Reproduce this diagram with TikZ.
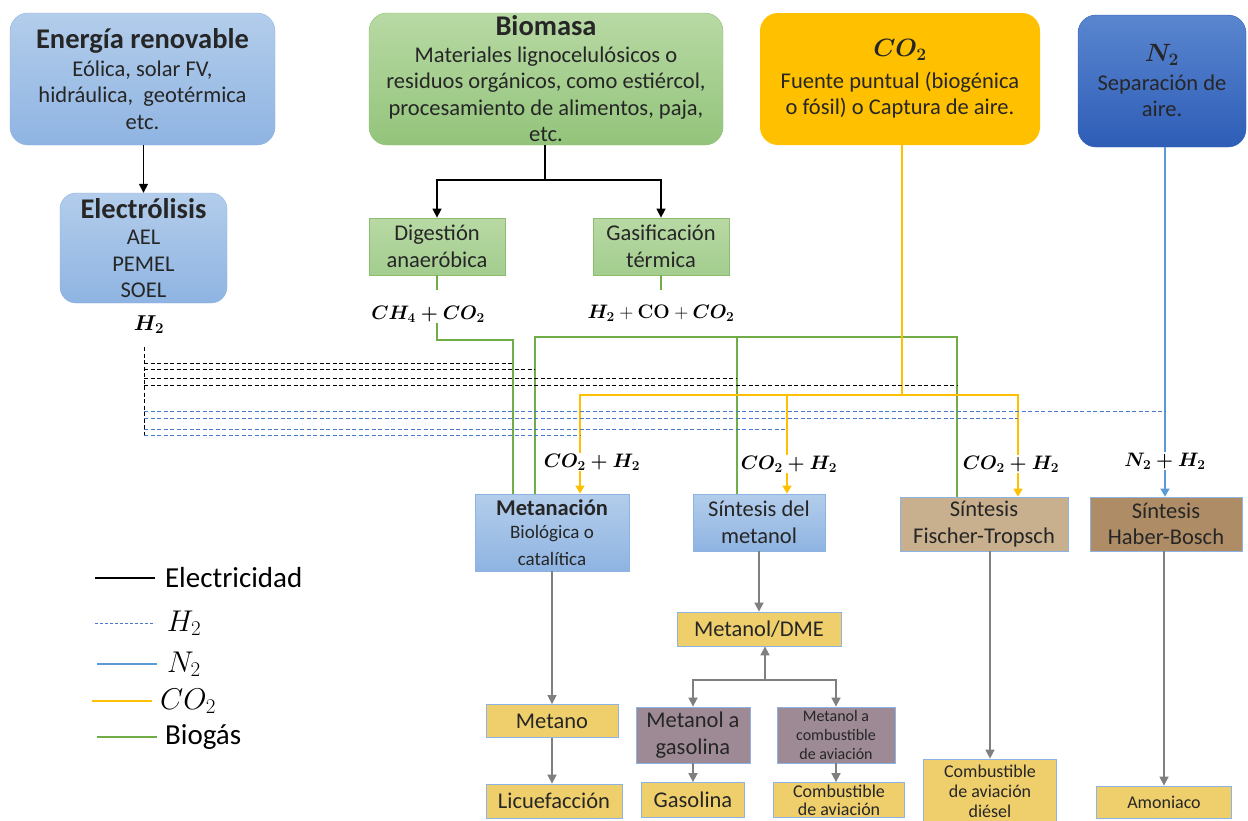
\RequirePackage{fix-cm}
\documentclass[tikz,border=0pt]{standalone}
\usepackage[no-math]{fontspec}
\setmainfont{Carlito}
\usepackage{amsmath}
\usetikzlibrary{arrows.meta}

\definecolor{txtgray}{HTML}{262626}
\definecolor{bluetop}{HTML}{B3CDEB}
\definecolor{bluebot}{HTML}{8FB4E2}
\definecolor{blueedge}{HTML}{8DB3E2}
\definecolor{greentop}{HTML}{B8D9A4}
\definecolor{greenbot}{HTML}{93C47B}
\definecolor{greenedge}{HTML}{8CC171}
\definecolor{co2fill}{HTML}{FFC000}
\definecolor{n2top}{HTML}{5A86CF}
\definecolor{n2bot}{HTML}{2E5DB7}
\definecolor{ftfill}{HTML}{C8B08F}
\definecolor{hbfill}{HTML}{AE8C66}
\definecolor{goldfill}{HTML}{EFCF6C}
\definecolor{mauve}{HTML}{9D8A95}
\definecolor{arrowgray}{HTML}{7F7F7F}
\definecolor{biogreen}{HTML}{70AD47}
\definecolor{n2blue}{HTML}{5B9BD5}
\definecolor{h2blue}{HTML}{4A78CC}

\newcommand{\titlefont}{\fontsize{28.5}{30}\selectfont\bfseries}
\newcommand{\bodyfont}{\fontsize{22.5}{26.5}\selectfont}
\newcommand{\smallfont}{\fontsize{19}{24}\selectfont}
\newcommand{\tinyfont}{\fontsize{16}{19}\selectfont}
\newcommand{\eqfont}{\fontsize{19.5}{24}\selectfont}
\newcommand{\legfont}{\fontsize{29}{32}\selectfont}
\newcommand{\legmath}{\fontsize{30}{32}\selectfont}

\begin{document}
\begin{tikzpicture}[x=1pt,y=-1pt,
  every node/.style={text=txtgray},
  rbox/.style={rounded corners=18pt, align=center, inner sep=0pt, font=\bodyfont},
  bluesrc/.style={rbox, draw=blueedge, top color=bluetop, bottom color=bluebot},
  greensrc/.style={rbox, draw=greenedge, top color=greentop, bottom color=greenbot},
  procbox/.style={draw=blueedge, line width=0.8pt, align=center, inner sep=0pt, font=\bodyfont},
  greenproc/.style={procbox, draw=biogreen!80, top color=greentop, bottom color=greenbot!85},
  blueproc/.style={procbox, top color=bluetop, bottom color=bluebot},
  goldbox/.style={procbox, fill=goldfill},
  mauvebox/.style={procbox, fill=mauve},
  eqlabel/.style={font=\eqfont, text=black, inner sep=1pt},
  elec/.style={black, line width=1.5pt, -{Triangle[length=9pt,width=9pt]}},
  bio/.style={biogreen, line width=1.6pt},
  co2line/.style={co2fill, line width=1.6pt},
  co2arrow/.style={co2line, -{Triangle[length=8pt,width=9pt]}},
  n2line/.style={n2blue, line width=1.5pt},
  n2arrow/.style={n2line, -{Triangle[length=8pt,width=9pt]}},
  h2k/.style={black, line width=0.9pt, dash pattern=on 4pt off 2.5pt},
  h2b/.style={h2blue, line width=1pt, dash pattern=on 4pt off 2.5pt},
  prod/.style={arrowgray, line width=1.6pt, -{Triangle[length=9pt,width=9pt]}}]
\useasboundingbox (0,0) rectangle (1248,820);

% fuentes
\node[bluesrc, minimum width=265pt, minimum height=132pt] (energia) at (142.5,79)
  {{\titlefont Energía renovable}\\[1pt]Eólica, solar FV,\\hidráulica,\ \ geotérmica\\etc.};
\node[bluesrc, rounded corners=16pt, minimum width=167pt, minimum height=110pt] (electro) at (143.5,248)
  {{\titlefont Electrólisis}\\AEL\\PEMEL\\SOEL};
\node[eqlabel, font=\fontsize{21.5}{24}\selectfont] (h2lab) at (149,325) {$\boldsymbol{H_2}$};
\node[greensrc, minimum width=354pt, minimum height=132pt] (biomasa) at (546,79)
  {{\titlefont Biomasa}\\Materiales lignocelulósicos o\\residuos orgánicos, como estiércol,\\procesamiento de alimentos, paja,\\etc.};
\node[rbox, fill=co2fill, minimum width=280pt, minimum height=132pt] (co2src) at (900,79)
  {{\fontsize{25}{30}\selectfont$\boldsymbol{CO_2}$}\\[5pt]Fuente puntual (biogénica\\o fósil) o Captura de aire.};
\node[rbox, draw=n2bot, top color=n2top, bottom color=n2bot, minimum width=168pt, minimum height=132pt] (n2src) at (1162,81)
  {{\fontsize{25}{30}\selectfont$\boldsymbol{N_2}$}\\[2pt]Separación de\\aire.};

% biomasa
\node[greenproc, minimum width=136pt, minimum height=57pt] (digest) at (437,246.5) {Digestión\\anaeróbica};
\node[greenproc, minimum width=136pt, minimum height=57pt] (gasif) at (661,246.5) {Gasificación\\térmica};
\node[eqlabel] (ch4) at (428,314) {$\boldsymbol{CH_4+CO_2}$};
\node[eqlabel] (h2co) at (661,313) {$\boldsymbol{H_2}+\mathbf{CO}+\boldsymbol{CO_2}$};

% sintesis
\node[blueproc, minimum width=154pt, minimum height=77pt] (metan) at (552,532.5)
  {{\bfseries Metanación}\\[-3pt]{\smallfont Biológica o}\\{\smallfont catalítica}};
\node[blueproc, minimum width=132pt, minimum height=57pt] (sintmet) at (759,522.5) {Síntesis del\\metanol};
\node[procbox, fill=ftfill, minimum width=168pt, minimum height=54pt] (ft) at (984,524) {Síntesis\\Fischer-Tropsch};
\node[procbox, fill=hbfill, minimum width=152pt, minimum height=54pt] (hb) at (1166,524) {Síntesis\\Haber-Bosch};

\node[eqlabel] (mix1) at (592,462) {$\boldsymbol{CO_2+H_2}$};
\node[eqlabel] (mix2) at (789,464) {$\boldsymbol{CO_2+H_2}$};
\node[eqlabel] (mix3) at (1011,464) {$\boldsymbol{CO_2+H_2}$};
\node[eqlabel] (mix4) at (1165,461) {$\boldsymbol{N_2+H_2}$};

% productos
\node[goldbox, minimum width=164pt, minimum height=34pt] (metdme) at (759,629) {Metanol/DME};
\node[mauvebox, font=\fontsize{22.5}{27}\selectfont, minimum width=114pt, minimum height=56pt] (metgas) at (693,735) {Metanol a\\gasolina};
\node[mauvebox, font=\tinyfont, minimum width=118pt, minimum height=56pt] (metjet) at (836,735) {Metanol a\\combustible\\de aviación};
\node[goldbox, minimum width=103pt, minimum height=35pt] (gasolina) at (693,800) {Gasolina};
\node[goldbox, font=\fontsize{18}{18}\selectfont, minimum width=131pt, minimum height=35pt] (combav) at (839,800) {Combustible\\de aviación};
\node[goldbox, minimum width=132pt, minimum height=33pt] (metano) at (552,721) {Metano};
\node[goldbox, minimum width=136pt, minimum height=34pt] (licue) at (554,801) {Licuefacción};
\node[goldbox, font=\fontsize{18}{20}\selectfont, minimum width=133pt, minimum height=64pt] (ftout) at (990,791) {Combustible\\de aviación\\diésel};
\node[goldbox, font=\fontsize{18}{20}\selectfont, minimum width=135pt, minimum height=32pt] (amon) at (1164,802) {Amoniaco};

% electricidad
\draw[elec] (energia.south -| electro.north) -- (electro.north);
\coordinate (bsplit) at (545,180);
\draw[black, line width=1.5pt] (bsplit |- biomasa.south) -- (bsplit);
\draw[elec] (bsplit) -| (digest.north);
\draw[elec] (bsplit) -| (gasif.north);

% biogas
\coordinate (gA) at (513,340);
\coordinate (gB) at (535,337);
\coordinate (gM) at (737,337);
\coordinate (gC) at (957,337);
\draw[bio] (digest.south) -- ++(0,15);
\draw[bio] (gasif.south) -- ++(0,15);
\draw[bio] (ch4.south -| digest.south) |- (gA) -- (gA |- metan.north);
\draw[bio] (gB |- metan.north) -- (gB) -- (gC) -- (gC |- ft.north);
\draw[bio] (gM) -- (gM |- sintmet.north);

% CO2
\coordinate (cbus) at (902,395);
\coordinate (yA) at (580,395);
\coordinate (yB) at (787,395);
\coordinate (yC) at (1018,395);
\draw[co2line] (cbus |- co2src.south) -- (cbus);
\draw[co2line] (yA |- mix1.north) -- (yA) -- (yC) -- (yC |- mix3.north);
\draw[co2line] (yB) -- (yB |- mix2.north);
\draw[co2arrow] (yA |- mix1.south) -- (yA |- metan.north);
\draw[co2arrow] (yB |- mix2.south) -- (yB |- sintmet.north);
\draw[co2arrow] (yC |- mix3.south) -- (yC |- ft.north);

% N2
\draw[n2line] (mix4.north |- n2src.south) -- (mix4.north);
\draw[n2arrow] (mix4.south) -- (mix4.south |- hb.north);

% H2
\coordinate (htop) at (144,347);
\coordinate (hbot) at (144,435);
\draw[h2k] (htop) -- (hbot);
\foreach \yy/\dest in {363/gA, 369/gB, 378/gM, 385/gC}{
  \path (144,\yy) coordinate (hs);
  \draw[h2k] (hs) -- (\dest |- hs);
}
\coordinate (nline) at (1165,400);
\foreach \yy/\dest in {411/nline, 418/yC, 429/yB, 435/yA}{
  \path (144,\yy) coordinate (hs);
  \draw[h2b] (hs) -- (\dest |- hs);
}

% productos
\draw[prod] (metan.south -| metano.north) -- (metano.north);
\draw[prod] (metano.south) -- (licue.north -| metano.south);
\draw[prod] (sintmet.south) -- (metdme.north -| sintmet.south);
\coordinate (mtree) at (765,680);
\draw[prod] (mtree) -- (mtree |- metdme.south);
\draw[prod] (mtree) -| (metgas.north);
\draw[prod] (mtree) -| (metjet.north);
\draw[prod] (metgas.south) -- (gasolina.north);
\draw[prod] (metjet.south) -- (metjet.south |- combav.north);
\draw[prod] (ftout.north |- ft.south) -- (ftout.north);
\draw[prod] (amon.north |- hb.south) -- (amon.north);

% leyenda
\draw[black, line width=1.5pt] (95,578) -- (155,578) node[right=6pt, font=\legfont, text=black] (legE) {Electricidad};
\draw[h2blue, line width=1pt, dash pattern=on 3pt off 2pt] (95,623) -- (155,623) node[right=8pt, font=\legmath, text=black] (legH) {$H_2$};
\draw[n2line] (97,664) -- (157,664) node[right=6pt, font=\legmath, text=black] (legN) {$N_2$};
\draw[co2line] (92,701) -- (152,701) node[right=4pt, font=\legmath, text=black] (legC) {$CO_2$};
\draw[bio] (97,737) -- (157,737) node[right=4pt, font=\legfont, text=black] (legB) {Biogás};
\end{tikzpicture}
\end{document}
